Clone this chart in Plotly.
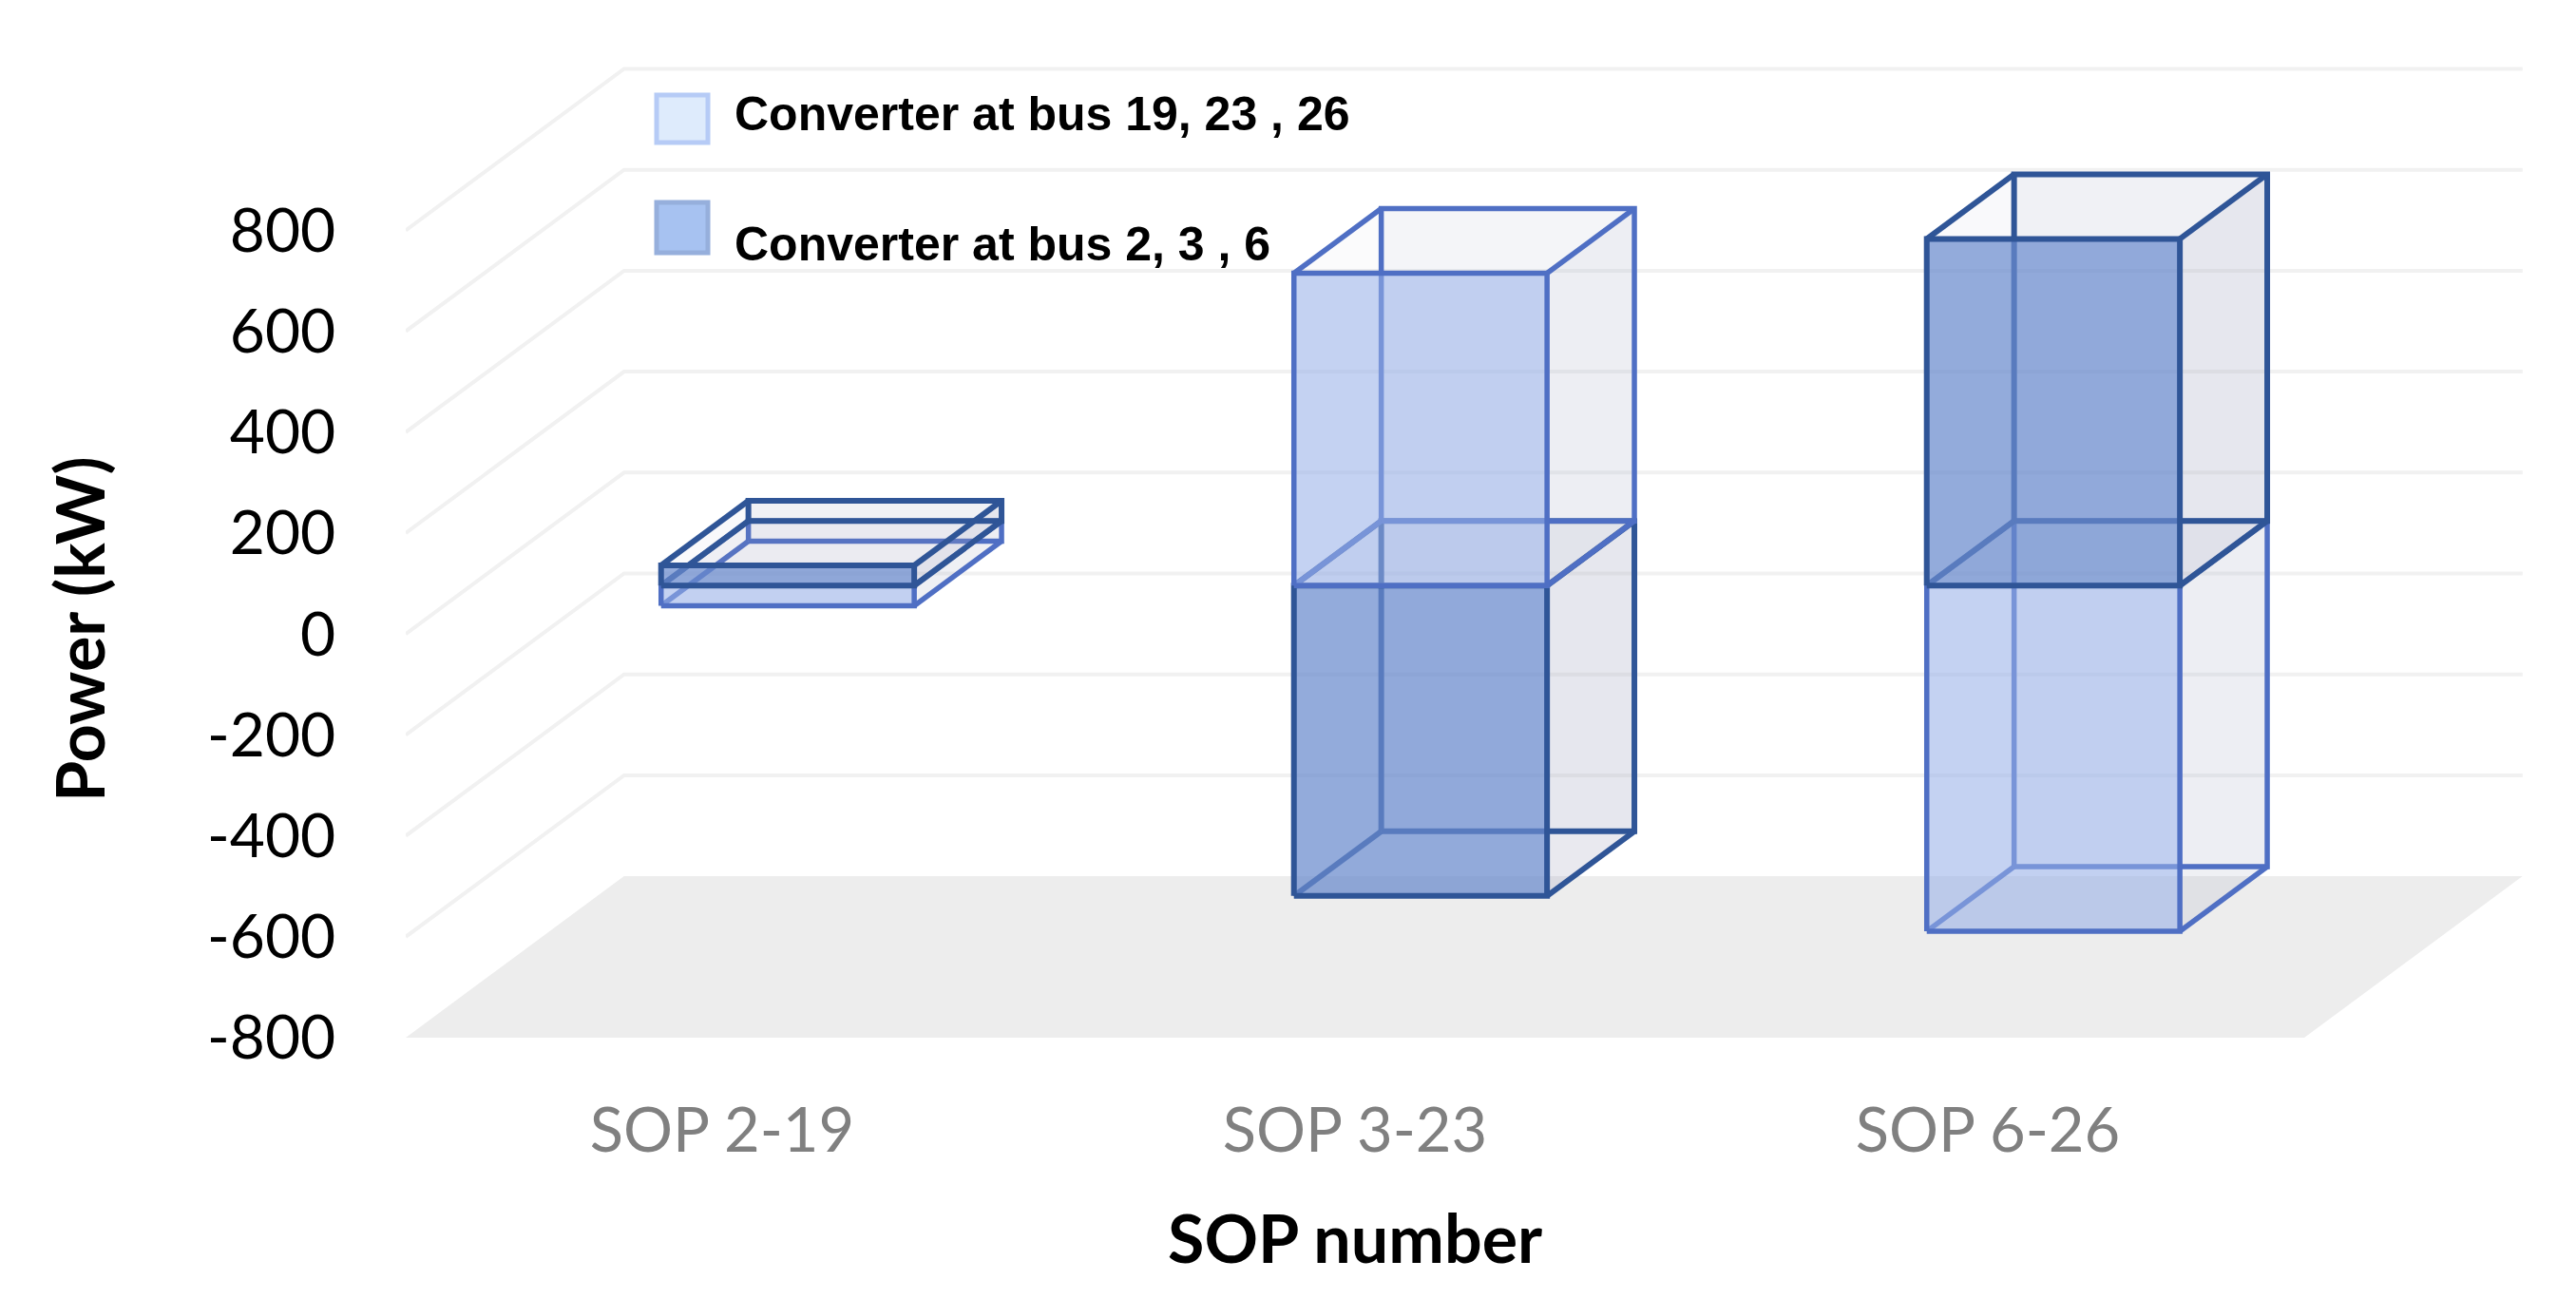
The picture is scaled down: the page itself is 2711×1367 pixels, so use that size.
import plotly.graph_objects as go

categories = ["SOP 2-19", "SOP 3-23", "SOP 6-26"]
converter_far = [-40, 619, -685]   # Converter at bus 19, 23, 26
converter_near = [40, -615, 687]   # Converter at bus 2, 3, 6
y_ticks = [-800, -600, -400, -200, 0, 200, 400, 600, 800]
legend_labels = ["Converter at bus 19, 23 , 26", "Converter at bus 2, 3 , 6"]
x_title = "SOP number"
y_title = "Power (kW)"

# Oblique projection of the chart's depth axis onto the 2-D axes
DEPTH_X = 0.345   # category units for the whole floor depth
DEPTH_Y = 320.0   # kW for the whole floor depth
HALF_W = 0.2
D0, D1 = 0.3, 0.7


def proj(c, v, d=0.0):
    return c + d * DEPTH_X, v + d * DEPTH_Y


def poly(points, fill=None, line=None, width=0):
    xs = [proj(*p)[0] for p in points]
    ys = [proj(*p)[1] for p in points]
    return go.Scatter(
        x=xs, y=ys, mode="lines", hoverinfo="skip", showlegend=False,
        fill="toself" if fill else None, fillcolor=fill,
        line=dict(color=line or "rgba(0,0,0,0)", width=width),
    )


STYLE = {
    "light": dict(edge="#4F6FC4", front="rgba(152,175,232,0.57)", w=5.5,
                  back="rgba(190,195,215,0.10)", side="rgba(170,175,200,0.14)",
                  cap="rgba(170,175,200,0.05)"),
    "dark": dict(edge="#2F5597", front="rgba(105,139,205,0.72)", w=6,
                 back="rgba(170,175,200,0.10)", side="rgba(165,165,190,0.19)",
                 cap="rgba(150,155,185,0.06)"),
}


def box(c, v, kind):
    s = STYLE[kind]
    l, r = c - HALF_W, c + HALF_W
    lo, hi = min(0, v), max(0, v)
    e, w = s["edge"], s["w"]
    out = []
    # back wall and the caps
    out.append(poly([(l, lo, D1), (r, lo, D1), (r, hi, D1), (l, hi, D1), (l, lo, D1)], fill=s["back"]))
    out.append(poly([(l, lo, D0), (r, lo, D0), (r, lo, D1), (l, lo, D1), (l, lo, D0)], fill=s["cap"]))
    out.append(poly([(l, hi, D0), (r, hi, D0), (r, hi, D1), (l, hi, D1), (l, hi, D0)], fill=s["cap"]))
    # right side
    out.append(poly([(r, lo, D0), (r, lo, D1), (r, hi, D1), (r, hi, D0), (r, lo, D0)], fill=s["side"]))
    # hidden edges
    out.append(poly([(l, lo, D1), (r, lo, D1), (r, hi, D1), (l, hi, D1), (l, lo, D1)], line=e, width=w))
    for cc, vv in ((l, lo), (r, lo), (l, hi), (r, hi)):
        out.append(poly([(cc, vv, D0), (cc, vv, D1)], line=e, width=w))
    # front face
    out.append(poly([(l, lo, D0), (r, lo, D0), (r, hi, D0), (l, hi, D0), (l, lo, D0)],
                    fill=s["front"], line=e, width=w))
    return out


traces = []
# floor
traces.append(poly([(-0.5, -800, 0), (2.5, -800, 0), (2.5, -800, 1), (-0.5, -800, 1), (-0.5, -800, 0)], fill="#EDEDED"))
# gridlines along the left wall and the back wall
for t in y_ticks[1:]:
    traces.append(poly([(-0.5, t, 0), (-0.5, t, 1), (2.5, t, 1)], line="#F1F1F1", width=4))

for i, (a, b) in enumerate(zip(converter_far, converter_near)):
    pair = [(a, "light"), (b, "dark")]
    pair.sort(key=lambda q: q[0])       # the lower box is drawn first
    for v, kind in pair:
        traces.extend(box(i, v, kind))

fig = go.Figure(traces)

W, H = 2711, 1367
L, R, T, B = 427, 51, 60, 275
PW, PH = W - L - R, H - T - B
FONT = "Lato, 'Open Sans', sans-serif"

fig.update_layout(
    width=W, height=H, autosize=False,
    margin=dict(l=L, r=R, t=T, b=B, autoexpand=False),
    paper_bgcolor="white", plot_bgcolor="white", showlegend=False,
    xaxis=dict(
        range=[-0.5, -0.5 + PW / 666.0],
        tickmode="array", tickvals=[0, 1, 2], ticktext=categories,
        tickfont=dict(family=FONT, size=65, color="#808080"),
        ticks="outside", ticklen=41, tickcolor="rgba(0,0,0,0)",
        showgrid=False, zeroline=False, showline=False, automargin=False,
    ),
    yaxis=dict(
        range=[-800, -800 + PH / 0.531],
        tickmode="array", tickvals=y_ticks,
        ticktext=[str(t) for t in y_ticks],
        tickfont=dict(family=FONT, size=64, color="black"),
        ticks="outside", ticklen=60, tickcolor="rgba(0,0,0,0)",
        showgrid=False, zeroline=False, showline=False, automargin=False,
    ),
    shapes=[
        dict(type="rect", xref="paper", yref="paper",
             x0=(691 - L) / PW, x1=(745 - L) / PW,
             y0=(H - B - 150) / PH, y1=(H - B - 100) / PH,
             fillcolor="#DEEBFC", line=dict(color="#B6CBF6", width=5)),
        dict(type="rect", xref="paper", yref="paper",
             x0=(691 - L) / PW, x1=(745 - L) / PW,
             y0=(H - B - 266) / PH, y1=(H - B - 213) / PH,
             fillcolor="#A7C2F1", line=dict(color="#96AFDC", width=5)),
    ],
    annotations=[
        dict(xref="paper", yref="paper", x=(771 - L) / PW,
             y=(H - B - yy) / PH, text=f"<b>{txt}</b>", showarrow=False,
             xanchor="left", yanchor="middle",
             font=dict(family="'Liberation Sans', Arial, sans-serif", size=50, color="black"))
        for txt, yy in zip(legend_labels, (120, 257))
    ] + [
        dict(xref="paper", yref="paper", x=(1426 - L) / PW, y=(H - B - 1302) / PH,
             text=f"<b>{x_title}</b>", showarrow=False, xanchor="center", yanchor="middle",
             font=dict(family=FONT, size=70, color="black")),
        dict(xref="paper", yref="paper", x=(83 - L) / PW, y=(H - B - 662) / PH,
             text=f"<b>{y_title}</b>", showarrow=False, textangle=-90,
             xanchor="center", yanchor="middle",
             font=dict(family=FONT, size=70, color="black")),
    ],
)

fig.write_html("out.html", config=dict(displayModeBar=False),
               post_script="document.body.style.margin='0';document.documentElement.style.overflow='hidden';")
